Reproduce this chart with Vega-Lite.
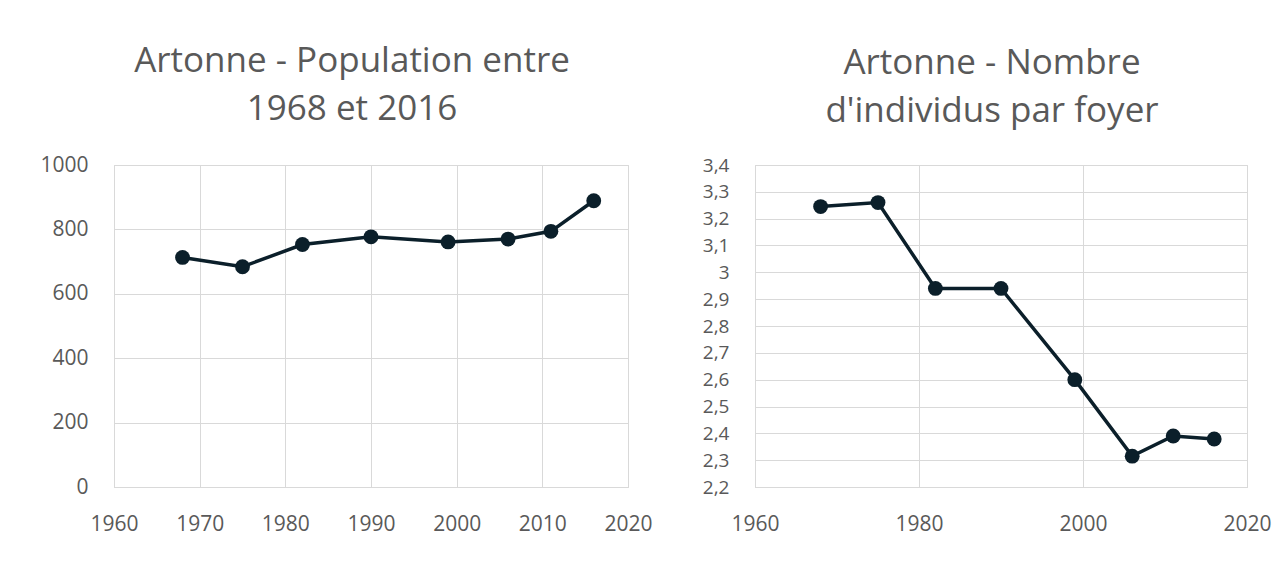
{
  "$schema": "https://vega.github.io/schema/vega-lite/v6.json",
  "background": "white",
  "padding": {"left": 33, "top": 43, "right": 5, "bottom": 5},
  "spacing": 127,
  "bounds": "flush",
  "config": {
    "font": "Open Sans",
    "view": {"stroke": "#d9d9d9", "strokeWidth": 1},
    "axis": {
      "labelFont": "Open Sans",
      "labelColor": "#595959",
      "labelFontSize": 21,
      "gridColor": "#d9d9d9",
      "gridWidth": 1,
      "domainColor": "#d9d9d9",
      "ticks": false,
      "title": null,
      "labelOverlap": false,
      "labelFlush": false
    },
    "axisY": {"minExtent": 80, "maxExtent": 80, "labelPadding": 26},
    "axisX": {"labelPadding": 26},
    "title": {"font": "Open Sans", "fontSize": 35, "fontWeight": "normal", "color": "#595959", "lineHeight": 48, "anchor": "middle", "offset": 27}
  },
  "datasets": {
    "pop": [
      {"annee": 1968, "valeur": 713},
      {"annee": 1975, "valeur": 684},
      {"annee": 1982, "valeur": 753},
      {"annee": 1990, "valeur": 777},
      {"annee": 1999, "valeur": 761},
      {"annee": 2006, "valeur": 770},
      {"annee": 2011, "valeur": 794},
      {"annee": 2016, "valeur": 889}
    ],
    "foyer": [
      {"annee": 1968, "valeur": 3.245},
      {"annee": 1975, "valeur": 3.26},
      {"annee": 1982, "valeur": 2.94},
      {"annee": 1990, "valeur": 2.94},
      {"annee": 1999, "valeur": 2.6},
      {"annee": 2006, "valeur": 2.315},
      {"annee": 2011, "valeur": 2.39},
      {"annee": 2016, "valeur": 2.379}
    ]
  },
  "hconcat": [
    {
      "width": 514,
      "height": 322,
      "title": {"text": ["Artonne - Population entre", "1968 et 2016"], "dx": -19},
      "data": {"name": "pop"},
      "encoding": {
        "x": {"field": "annee", "type": "quantitative", "scale": {"domain": [1960, 2020], "nice": false, "zero": false},
              "axis": {"values": [1960, 1970, 1980, 1990, 2000, 2010, 2020], "format": "d"}},
        "y": {"field": "valeur", "type": "quantitative", "scale": {"domain": [0, 1000], "nice": false},
              "axis": {"values": [0, 200, 400, 600, 800, 1000], "format": "d"}}
      },
      "layer": [
        {"mark": {"type": "line", "color": "#0b1f2a", "strokeWidth": 3.5}},
        {"mark": {"type": "point", "filled": true, "size": 220, "color": "#0b1f2a", "opacity": 1}}
      ]
    },
    {
      "width": 492,
      "height": 322,
      "title": {"text": ["Artonne - Nombre", "d'individus par foyer"], "dx": -9},
      "data": {"name": "foyer"},
      "encoding": {
        "x": {"field": "annee", "type": "quantitative", "scale": {"domain": [1960, 2020], "nice": false, "zero": false},
              "axis": {"values": [1960, 1980, 2000, 2020], "format": "d"}},
        "y": {"field": "valeur", "type": "quantitative", "scale": {"domain": [2.2, 3.4], "nice": false, "zero": false},
              "axis": {"values": [2.2, 2.3, 2.4, 2.5, 2.6, 2.7, 2.8, 2.9, 3.0, 3.1, 3.2, 3.3, 3.4],
                       "labelExpr": "replace(format(datum.value, '.1~f'), '.', ',')", "labelFontSize": 19}}
      },
      "layer": [
        {"mark": {"type": "line", "color": "#0b1f2a", "strokeWidth": 3.5}},
        {"mark": {"type": "point", "filled": true, "size": 220, "color": "#0b1f2a", "opacity": 1}}
      ]
    }
  ]
}
